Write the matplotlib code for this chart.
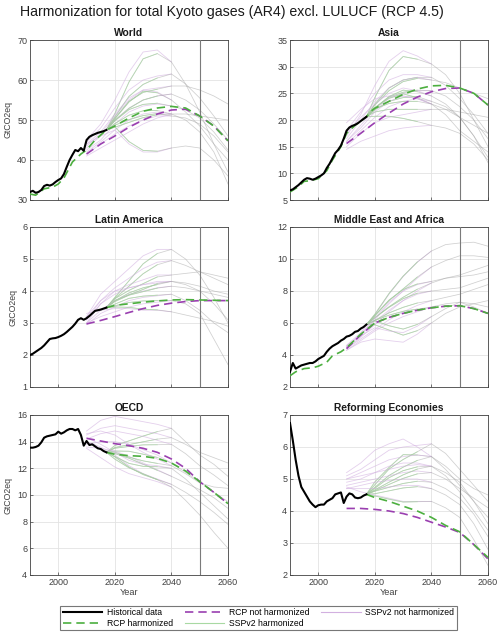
import matplotlib
matplotlib.use("Agg")
import matplotlib.pyplot as plt
from matplotlib.lines import Line2D

plt.rcParams['font.family'] = ['Liberation Sans', 'DejaVu Sans']

# common years
hist_years = list(range(1990, 2018))
ssp_years = [2010, 2015, 2020, 2025, 2030, 2035, 2040, 2045, 2050, 2055, 2060]
harm_years = [2020, 2025, 2030, 2035, 2040]
late_rcp_years = [2017, 2020, 2025, 2030, 2035, 2040, 2045, 2050, 2055, 2060]

# ---------------- World
world_hist = [32.0, 32.3, 31.8, 32.0, 32.5, 33.5, 33.8, 33.6, 33.9, 34.5, 35.0, 35.4, 36.5, 38.3,
              40.0, 41.3, 42.5, 42.2, 43.0, 42.3, 45.0, 45.8, 46.2, 46.5, 46.8, 47.0, 47.2, 47.5]
world_rcp_h_years = [1990, 1992, 1995, 1998, 2000, 2002, 2005, 2008, 2010, 2013, 2017,
                     2020, 2025, 2030, 2035, 2040, 2045, 2050, 2055, 2060]
world_rcp_h = [31.5, 31.2, 32.8, 33.2, 34.0, 35.5, 39.5, 41.5, 42.5, 45.0, 47.5,
               48.5, 50.5, 52.2, 53.0, 53.4, 53.0, 51.0, 48.5, 44.8]
world_rcp_u = [41.5, 44.0, 46.0, 48.2, 50.0, 51.5, 52.5, 52.7, 51.0, 48.5, 44.8]
world_ssp_u = [
    [45.0, 49.0, 55.0, 62.0, 67.0, 67.5, 64.5, 59.0, 52.0, 44.0, 37.0],
    [44.5, 48.0, 53.0, 57.5, 60.0, 61.0, 61.5, 59.0, 55.5, 51.0, 46.0],
    [44.0, 47.0, 51.5, 55.5, 57.5, 58.0, 58.5, 58.5, 57.5, 56.0, 54.0],
    [43.5, 46.5, 51.0, 55.0, 57.5, 57.0, 55.0, 52.0, 48.5, 44.0, 40.0],
    [43.0, 46.0, 50.0, 53.0, 55.0, 56.0, 56.5, 55.0, 52.5, 49.0, 45.0],
    [42.5, 45.0, 49.0, 52.0, 53.5, 54.0, 53.5, 52.5, 50.5, 47.0, 42.5],
    [42.0, 44.5, 47.5, 50.0, 51.5, 52.0, 51.5, 50.0, 47.0, 42.0, 34.0],
    [41.5, 44.0, 46.5, 48.5, 50.0, 51.0, 51.0, 50.5, 49.0, 46.0, 42.0],
    [44.0, 46.0, 47.5, 44.0, 42.0, 42.0, 43.0, 43.5, 43.0, 40.0, 36.0],
    [41.0, 43.0, 45.0, 47.0, 49.0, 50.5, 51.5, 51.5, 51.0, 50.5, 50.0],
]
world_ssp_h = [
    [51.6, 59.5, 65.3, 66.6, 64.5],
    [50.8, 55.9, 58.9, 60.5, 61.5],
    [50.4, 54.7, 56.9, 57.7, 58.5],
    [50.3, 54.5, 57.2, 56.8, 55.0],
    [49.9, 52.9, 55.0, 56.0, 56.5],
    [49.8, 52.6, 53.9, 54.2, 53.5],
    [49.1, 51.2, 52.3, 52.4, 51.5],
    [48.7, 50.1, 51.1, 51.6, 51.0],
    [48.3, 44.6, 42.4, 42.2, 43.0],
    [48.2, 49.4, 50.6, 51.3, 51.5],
]

# ---------------- Asia
asia_hist = [6.8, 7.0, 7.4, 7.8, 8.3, 8.8, 9.1, 9.0, 8.8, 9.0, 9.3, 9.6, 10.0, 11.0,
             11.8, 12.8, 13.8, 14.4, 15.2, 16.5, 18.0, 18.6, 18.9, 19.1, 19.4, 19.8, 20.2, 20.6]
asia_rcp_h_years = [1990, 1993, 1995, 1997, 2000, 2003, 2005, 2008, 2010, 2013, 2017, 2019,
                    2020, 2025, 2030, 2035, 2040, 2045, 2050, 2055, 2060]
asia_rcp_h = [6.5, 7.5, 8.5, 8.6, 9.0, 10.5, 12.5, 15.0, 17.5, 19.0, 20.6, 21.8,
              22.2, 23.5, 24.8, 25.8, 26.4, 26.5, 26.0, 25.0, 22.8]
asia_rcp_u = [15.6, 17.5, 19.5, 21.3, 23.0, 24.3, 25.3, 25.9, 26.0, 25.0, 22.8]
asia_ssp_u = [
    [17.0, 21.0, 26.5, 31.0, 33.0, 32.0, 30.5, 28.5, 25.0, 20.0, 15.0],
    [18.0, 21.5, 25.0, 27.5, 28.5, 28.5, 28.0, 26.5, 24.0, 21.0, 17.5],
    [16.5, 20.0, 23.5, 26.0, 27.5, 28.0, 27.5, 27.0, 26.0, 25.0, 24.0],
    [17.5, 20.5, 23.0, 25.0, 26.0, 25.5, 24.5, 23.0, 20.5, 17.0, 13.0],
    [16.0, 19.0, 22.0, 24.0, 25.0, 25.5, 25.5, 24.5, 22.5, 20.0, 16.5],
    [15.5, 18.0, 20.5, 22.5, 23.5, 24.0, 23.5, 22.5, 20.5, 17.0, 12.0],
    [15.0, 17.5, 19.5, 20.5, 21.0, 21.5, 22.0, 22.0, 21.5, 21.0, 20.5],
    [14.5, 16.0, 17.0, 18.0, 18.5, 18.8, 19.0, 18.5, 17.5, 15.5, 12.5],
    [16.0, 18.5, 21.5, 23.5, 24.5, 24.0, 23.0, 21.0, 18.0, 16.0, 14.0],
    [19.5, 22.0, 24.0, 24.5, 24.5, 24.0, 23.0, 22.0, 20.5, 19.0, 17.5],
]
asia_ssp_h = [
    [24.2, 29.3, 31.9, 31.4, 30.5],
    [23.0, 26.0, 27.5, 28.0, 28.0],
    [22.8, 25.5, 27.2, 27.8, 27.5],
    [22.2, 24.4, 25.6, 25.3, 24.5],
    [22.3, 24.3, 25.2, 25.6, 25.5],
    [21.9, 23.5, 24.2, 24.4, 23.5],
    [21.5, 22.0, 22.0, 22.0, 22.0],
    [20.7, 20.7, 20.3, 19.7, 19.0],
    [22.3, 24.1, 24.9, 24.2, 23.0],
    [22.1, 23.1, 23.5, 23.5, 23.0],
]

# ---------------- Latin America
latam_hist = [2.00, 2.04, 2.10, 2.16, 2.22, 2.30, 2.40, 2.50, 2.52, 2.53, 2.56, 2.60, 2.65, 2.72,
              2.80, 2.88, 2.98, 3.10, 3.15, 3.10, 3.15, 3.22, 3.30, 3.38, 3.40, 3.42, 3.45, 3.48]
latam_rcp_h = [3.48, 3.55, 3.60, 3.65, 3.69, 3.72, 3.73, 3.72, 3.71, 3.70]
latam_rcp_u = [2.97, 3.08, 3.20, 3.33, 3.45, 3.55, 3.62, 3.67, 3.70, 3.70, 3.70]
latam_ssp_u = [
    [3.20, 3.90, 4.30, 4.70, 5.10, 5.30, 5.30, 5.00, 4.50, 3.80, 3.00],
    [3.10, 3.70, 4.10, 4.40, 4.70, 4.90, 4.95, 4.80, 4.60, 4.40, 4.20],
    [3.00, 3.60, 4.00, 4.20, 4.35, 4.50, 4.50, 4.55, 4.60, 4.50, 4.40],
    [3.10, 3.60, 3.90, 4.10, 4.20, 4.25, 4.30, 4.20, 4.00, 3.60, 3.10],
    [3.00, 3.40, 3.70, 3.90, 4.00, 4.10, 4.15, 4.10, 4.00, 3.90, 3.80],
    [2.95, 3.30, 3.50, 3.70, 3.80, 3.85, 3.90, 3.70, 3.40, 3.00, 2.70],
    [3.00, 3.20, 3.35, 3.50, 3.60, 3.65, 3.70, 3.60, 3.30, 2.50, 1.70],
    [3.30, 3.40, 3.45, 3.45, 3.40, 3.40, 3.35, 3.25, 3.15, 3.05, 2.90],
    [3.20, 3.70, 4.00, 4.10, 4.20, 4.30, 4.30, 4.25, 4.15, 4.00, 3.90],
]
latam_ssp_h = [
    [3.80, 4.32, 4.85, 5.17, 5.30],
    [3.77, 4.15, 4.54, 4.82, 4.95],
    [3.76, 4.02, 4.23, 4.44, 4.50],
    [3.69, 3.94, 4.10, 4.20, 4.30],
    [3.67, 3.87, 3.98, 4.09, 4.15],
    [3.59, 3.77, 3.84, 3.87, 3.90],
    [3.54, 3.64, 3.69, 3.70, 3.70],
    [3.50, 3.49, 3.43, 3.41, 3.35],
    [3.70, 3.88, 4.05, 4.23, 4.30],
]

# ---------------- Middle East and Africa
mea_hist = [2.95, 3.50, 3.15, 3.25, 3.35, 3.40, 3.45, 3.50, 3.50, 3.60, 3.75, 3.85, 3.95, 4.20,
            4.40, 4.55, 4.65, 4.75, 4.90, 5.00, 5.15, 5.20, 5.30, 5.45, 5.50, 5.65, 5.75, 5.90]
mea_rcp_h_years = [1990, 1992, 1995, 1998, 2000, 2003, 2005, 2008, 2010, 2015,
                   2020, 2025, 2030, 2035, 2040, 2045, 2050, 2055, 2060]
mea_rcp_h = [2.70, 2.95, 3.15, 3.20, 3.30, 3.55, 3.95, 4.20, 4.45, 5.30,
             6.00, 6.35, 6.60, 6.80, 6.95, 7.05, 7.08, 6.90, 6.60]
mea_rcp_u = [4.40, 5.25, 6.00, 6.35, 6.60, 6.80, 6.95, 7.05, 7.08, 6.90, 6.60]
mea_ssp_u = [
    [4.6, 5.4, 6.5, 7.8, 8.9, 9.8, 10.5, 10.9, 11.0, 11.05, 10.8],
    [4.5, 5.2, 6.2, 7.2, 8.0, 8.8, 9.5, 9.9, 10.2, 10.2, 10.1],
    [4.4, 5.1, 5.9, 6.7, 7.4, 8.0, 8.5, 8.8, 9.0, 9.3, 9.6],
    [4.5, 5.3, 6.1, 6.8, 7.4, 7.8, 8.0, 8.1, 8.2, 8.5, 8.8],
    [4.4, 5.0, 5.6, 6.2, 6.7, 7.1, 7.4, 7.6, 7.8, 8.1, 8.4],
    [4.3, 4.9, 5.5, 6.0, 6.4, 6.7, 7.0, 7.2, 7.3, 7.2, 7.0],
    [4.3, 4.8, 5.0, 4.9, 4.8, 5.3, 6.0, 6.6, 7.0, 7.2, 7.4],
    [4.6, 5.2, 5.7, 5.5, 5.4, 5.8, 6.4, 6.9, 7.3, 7.0, 6.6],
    [4.5, 5.3, 6.3, 7.3, 8.0, 8.4, 8.6, 8.8, 8.9, 9.0, 9.2],
]
mea_ssp_h = [
    [6.55, 7.84, 8.93, 9.81, 10.5],
    [6.46, 7.40, 8.13, 8.87, 9.5],
    [6.32, 7.01, 7.61, 8.11, 8.5],
    [6.34, 6.98, 7.52, 7.86, 8.0],
    [6.17, 6.63, 6.98, 7.25, 7.4],
    [6.16, 6.49, 6.73, 6.87, 7.0],
    [5.89, 5.56, 5.24, 5.52, 6.0],
    [6.14, 5.83, 5.62, 5.91, 6.4],
    [6.47, 7.43, 8.09, 8.44, 8.6],
]

# ---------------- OECD
oecd_hist = [13.55, 13.55, 13.6, 13.7, 13.95, 14.3, 14.4, 14.45, 14.5, 14.55, 14.75, 14.6, 14.7, 14.85,
             14.95, 14.95, 14.85, 14.95, 14.5, 13.7, 14.05, 13.75, 13.8, 13.65, 13.5, 13.45, 13.3, 13.2]
oecd_rcp_h = [13.2, 13.05, 12.95, 12.9, 12.75, 12.4, 11.8, 11.0, 10.2, 9.35]
oecd_rcp_u = [14.25, 14.05, 13.85, 13.7, 13.5, 13.2, 12.7, 12.0, 11.0, 10.2, 9.35]
oecd_ssp_u = [
    [14.8, 15.6, 15.9, 15.7, 15.5, 15.3, 15.0, 14.0, 13.0, 12.3, 11.4],
    [14.5, 15.0, 15.2, 15.0, 14.8, 14.6, 14.3, 13.8, 13.2, 12.8, 12.4],
    [14.2, 14.6, 14.8, 14.6, 14.4, 14.1, 13.8, 13.1, 12.2, 11.5, 10.7],
    [13.8, 14.0, 14.0, 13.8, 13.4, 13.0, 12.4, 11.7, 11.0, 10.2, 9.5],
    [13.6, 13.5, 13.3, 12.9, 12.4, 11.9, 11.4, 10.9, 10.4, 9.8, 9.0],
    [14.0, 13.6, 13.0, 12.2, 11.6, 11.2, 10.8, 10.2, 9.5, 8.7, 7.8],
    [13.5, 12.8, 12.1, 11.6, 11.3, 11.0, 10.6, 9.6, 8.5, 7.2, 6.0],
    [14.6, 14.8, 14.5, 13.8, 13.2, 12.7, 12.2, 11.6, 10.9, 10.6, 10.5],
    [14.3, 13.8, 13.2, 12.6, 12.3, 12.2, 12.0, 11.2, 10.2, 9.2, 8.2],
]
oecd_ssp_h = [
    [13.71, 14.06, 14.42, 14.75, 15.0],
    [13.56, 13.78, 13.99, 14.19, 14.3],
    [13.51, 13.64, 13.76, 13.77, 13.8],
    [13.30, 13.28, 13.06, 12.82, 12.4],
    [13.11, 12.76, 12.31, 11.85, 11.4],
    [12.86, 12.10, 11.53, 11.16, 10.8],
    [12.69, 12.04, 11.59, 11.15, 10.6],
    [13.21, 12.84, 12.56, 12.37, 12.2],
    [12.89, 12.37, 12.15, 12.12, 12.0],
]

# ---------------- Reforming Economies
ref_hist = [6.75, 6.2, 5.6, 5.1, 4.75, 4.6, 4.45, 4.3, 4.2, 4.12, 4.18, 4.2, 4.2, 4.3,
            4.35, 4.4, 4.52, 4.55, 4.58, 4.25, 4.45, 4.55, 4.52, 4.42, 4.4, 4.42, 4.48, 4.52]
ref_rcp_h = [4.52, 4.42, 4.30, 4.15, 4.00, 3.80, 3.55, 3.35, 2.95, 2.55]
ref_rcp_u = [4.08, 4.08, 4.05, 4.00, 3.92, 3.80, 3.65, 3.50, 3.33, 2.95, 2.50]
ref_ssp_u = [
    [5.2, 5.5, 5.9, 6.1, 6.25, 6.0, 5.7, 5.3, 4.8, 4.3, 3.8],
    [5.1, 5.3, 5.6, 5.9, 6.0, 6.05, 6.1, 5.8, 5.3, 4.8, 4.3],
    [5.0, 5.2, 5.4, 5.6, 5.7, 5.75, 5.7, 5.4, 5.0, 4.7, 4.5],
    [4.9, 5.0, 5.2, 5.4, 5.5, 5.5, 5.4, 5.1, 4.6, 4.0, 3.4],
    [4.8, 4.9, 5.0, 5.1, 5.2, 5.25, 5.2, 5.0, 4.7, 4.4, 4.1],
    [4.7, 4.8, 4.9, 4.95, 5.0, 5.0, 4.9, 4.7, 4.4, 3.9, 3.2],
    [4.7, 4.7, 4.7, 4.75, 4.8, 4.8, 4.7, 4.5, 4.2, 3.6, 2.8],
    [4.75, 4.6, 4.5, 4.4, 4.3, 4.3, 4.3, 4.1, 3.8, 3.1, 2.3],
    [5.0, 5.1, 5.2, 5.3, 5.4, 5.45, 5.4, 5.2, 4.9, 4.3, 3.6],
]
ref_ssp_h = [
    [4.91, 5.36, 5.76, 5.75, 5.7],
    [4.82, 5.31, 5.61, 5.85, 6.1],
    [4.74, 5.11, 5.37, 5.58, 5.7],
    [4.71, 5.04, 5.26, 5.38, 5.4],
    [4.63, 4.83, 5.02, 5.16, 5.2],
    [4.62, 4.74, 4.86, 4.93, 4.9],
    [4.54, 4.63, 4.72, 4.76, 4.7],
    [4.47, 4.37, 4.28, 4.29, 4.3],
    [4.66, 4.90, 5.13, 5.31, 5.4],
]

panels = [
    ("World", world_hist, world_rcp_h_years, world_rcp_h, world_rcp_u, world_ssp_u, world_ssp_h),
    ("Asia", asia_hist, asia_rcp_h_years, asia_rcp_h, asia_rcp_u, asia_ssp_u, asia_ssp_h),
    ("Latin America", latam_hist, late_rcp_years, latam_rcp_h, latam_rcp_u, latam_ssp_u, latam_ssp_h),
    ("Middle East and Africa", mea_hist, mea_rcp_h_years, mea_rcp_h, mea_rcp_u, mea_ssp_u, mea_ssp_h),
    ("OECD", oecd_hist, late_rcp_years, oecd_rcp_h, oecd_rcp_u, oecd_ssp_u, oecd_ssp_h),
    ("Reforming Economies", ref_hist, late_rcp_years, ref_rcp_h, ref_rcp_u, ref_ssp_u, ref_ssp_h),
]

# axis ranges per panel
ylims = [(30, 70, 10), (5, 35, 5), (1, 6, 1), (2, 12, 2), (4, 16, 2), (2, 7, 1)]

PURPLE = '#9a3fb0'
GREEN = '#4caf3f'
PURPLE_L = '#d2b0e0'
GREEN_L = '#a8d9a3'
GREY_L = '#a0a0a0'
AX_COL = '#404040'

fig = plt.figure(figsize=(5.0, 6.36), dpi=100)
fig.text(0.04, 1 - 12 / 636, "Harmonization for total Kyoto gases (AR4) excl. LULUCF (RCP 4.5)",
         fontsize=10.2, va='center', ha='left', color='#1a1a1a')

lefts = [0.06, 0.58]
bottoms = [1 - 200 / 636, 1 - 387 / 636, 1 - 575 / 636]
w, h = 0.396, 160 / 636

for i, (name, hist, rh_years, rh, ru, su, sh) in enumerate(panels):
    row, col = divmod(i, 2)
    ax = fig.add_axes([lefts[col], bottoms[row], w, h])
    lo, hi, step = ylims[i]

    # scenario spaghetti: purple = not harmonized, green -> grey = harmonized
    for u, hv in zip(su, sh):
        ax.plot(ssp_years[:7], u[:7], color=PURPLE_L, lw=0.6, alpha=0.6, zorder=2)
        yy = [hist_years[-1]] + harm_years + ssp_years[7:]
        vv = [hist[-1]] + hv + u[7:]
        ax.plot(yy, vv, color=GREY_L, lw=0.55, alpha=0.5, zorder=2)
        ax.plot(yy[:5], vv[:5], color=GREEN_L, lw=0.6, alpha=0.7, zorder=2)

    ax.plot(ssp_years, ru, color=PURPLE, lw=1.2, dashes=(5, 3), zorder=4)
    ax.plot(rh_years, rh, color=GREEN, lw=1.2, dashes=(5, 3), zorder=4)
    ax.plot(hist_years, hist, color='black', lw=1.5, zorder=5)
    ax.axvline(2050, color='#7a7a7a', lw=0.8, zorder=3)

    ax.set_xlim(1990, 2060)
    ax.set_ylim(lo, hi)
    ax.set_xticks([2000, 2020, 2040, 2060])
    ax.set_yticks(list(range(lo, hi + 1, step)))
    ax.grid(True, color='#e3e3e3', lw=0.6, zorder=0)
    ax.set_axisbelow(True)
    ax.tick_params(direction='in', length=2.5, width=0.5, labelsize=6.5, colors=AX_COL, pad=2)
    for s in ax.spines.values():
        s.set_color(AX_COL)
        s.set_linewidth(0.6)
    ax.set_title(name, fontsize=7.4, fontweight='bold', pad=3, color='#1a1a1a')
    if row < 2:
        ax.set_xticklabels([])
    else:
        ax.set_xlabel("Year", fontsize=6.6, color=AX_COL, labelpad=1)
    if col == 0:
        ax.set_ylabel("GtCO2eq", fontsize=6.3, color=AX_COL, labelpad=3)

handles = [
    Line2D([], [], color='black', lw=1.5),
    Line2D([], [], color=GREEN, lw=1.2, dashes=(5, 3)),
    Line2D([], [], color=PURPLE, lw=1.2, dashes=(5, 3)),
    Line2D([], [], color=GREEN_L, lw=0.8),
    Line2D([], [], color=PURPLE_L, lw=0.8),
]
labels = ["Historical data", "RCP harmonized", "RCP not harmonized",
          "SSPv2 harmonized", "SSPv2 not harmonized"]
leg = fig.legend(handles, labels, loc='center', bbox_to_anchor=(0.517, 1 - 618 / 636), ncol=3,
                 fontsize=6.2, frameon=True, fancybox=False, handlelength=4.6, columnspacing=1.4,
                 handletextpad=0.5, labelspacing=0.2, borderpad=0.3)
leg.get_frame().set_edgecolor('#555555')
leg.get_frame().set_linewidth(0.8)

fig.savefig("out.png", dpi=100)
